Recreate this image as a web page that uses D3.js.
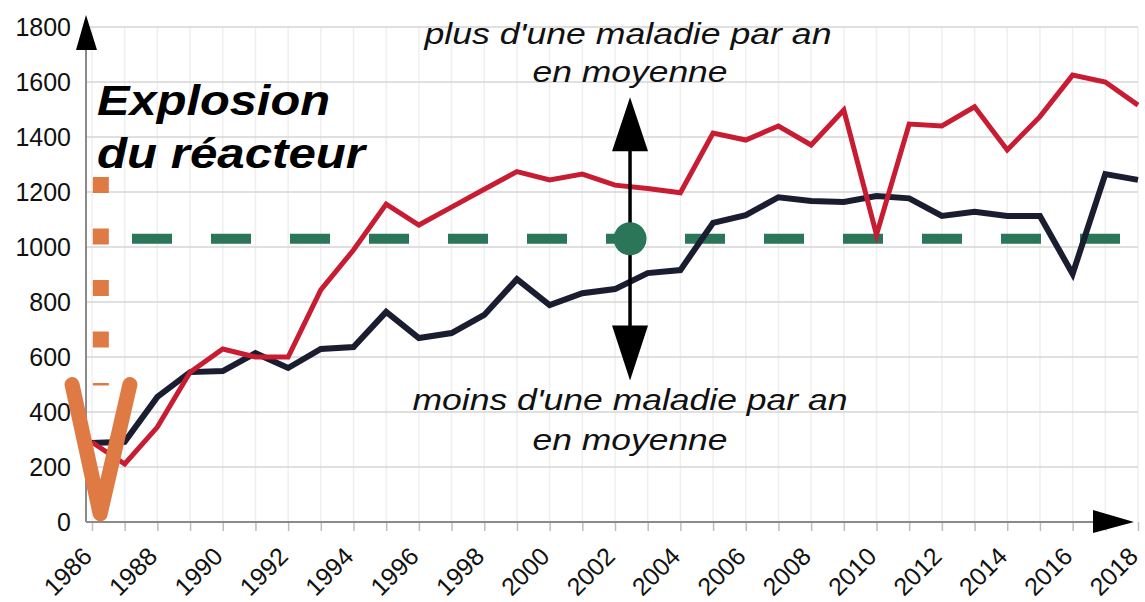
<!DOCTYPE html>
<html>
<head>
<meta charset="utf-8">
<script src="https://cdn.jsdelivr.net/npm/d3@7"></script>
<style>
  body { margin: 0; background: #fff; }
  svg { display: block; font-family: "Liberation Sans", Arial, sans-serif; }
</style>
</head>
<body>
<svg id="chart" width="1145" height="602"></svg>
<script>
const years = d3.range(1986, 2019);

// red series (upper line)
const redValues = [290, 211, 345, 545, 629, 600, 600, 844, 989, 1156, 1080, 1145, 1210, 1274, 1244,
  1265, 1225, 1213, 1197, 1414, 1389, 1440, 1371, 1498, 1045, 1447, 1440, 1510, 1353, 1474,
  1625, 1600, 1516];

// dark series (lower line)
const darkValues = [287, 292, 455, 545, 549, 614, 560, 629, 636, 764, 669, 687, 753, 883, 789,
  832, 847, 905, 916, 1088, 1116, 1181, 1167, 1164, 1185, 1177, 1113, 1128, 1113, 1113,
  902, 1265, 1244];

const yTicks = [0, 200, 400, 600, 800, 1000, 1200, 1400, 1600, 1800];
const xLabels = d3.range(1986, 2019, 2);

const averageLevel = 1030;
const averageYear = 2002.46;
const arrowTop = 1545;
const arrowBottom = 515;

// orange markers near the accident year
const orangeV = [[1985.39, 500], [1986.25, 30], [1987.16, 500]];
const orangeDots = [[1986.27, 500], [1986.27, 1255]];

const svg = d3.select('#chart');

const x = d3.scaleLinear().domain([1986, 2018]).range([92, 1138]);
const y = d3.scaleLinear().domain([0, 1800]).range([522, 27]);

const axisX = 86;

// vertical grid
svg.append('g')
  .selectAll('line')
  .data(years)
  .join('line')
  .attr('x1', d => x(d)).attr('x2', d => x(d))
  .attr('y1', y(1800)).attr('y2', y(0))
  .attr('stroke', '#efefef')
  .attr('stroke-width', 1.5);

// horizontal grid
svg.append('g')
  .selectAll('line')
  .data(yTicks.slice(1))
  .join('line')
  .attr('x1', axisX).attr('x2', x(2018))
  .attr('y1', d => y(d)).attr('y2', d => y(d))
  .attr('stroke', '#d6d6d6')
  .attr('stroke-width', 1.5);

// y axis labels
const yAxis = d3.axisLeft(y).tickValues(yTicks).tickFormat(d3.format('d')).tickSize(0).tickPadding(15);
const gy = svg.append('g').attr('transform', `translate(${axisX},0)`).call(yAxis);
gy.select('.domain').remove();
gy.selectAll('text')
  .attr('font-size', '25px')
  .attr('fill', '#111')
  .attr('font-family', '"Liberation Sans", Arial, sans-serif');

// x axis ticks and labels
const xAxis = d3.axisBottom(x).tickValues(years).tickSize(9)
  .tickFormat(d => (xLabels.includes(d) ? d : ''));
const gx = svg.append('g').attr('transform', `translate(0,${y(0)})`).call(xAxis);
gx.select('.domain').remove();
gx.selectAll('.tick line').attr('stroke', '#bdbdbd').attr('stroke-width', 1.5);
gx.selectAll('text')
  .attr('font-size', '25px')
  .attr('fill', '#111')
  .attr('font-family', '"Liberation Sans", Arial, sans-serif')
  .attr('text-anchor', 'end')
  .attr('dy', null)
  .attr('y', null)
  .attr('transform', 'translate(1,36) rotate(-45)');

// axis lines
svg.append('line')
  .attr('x1', axisX).attr('x2', axisX)
  .attr('y1', 40).attr('y2', y(0))
  .attr('stroke', '#8a8a8a').attr('stroke-width', 2);
svg.append('line')
  .attr('x1', axisX).attr('x2', 1100)
  .attr('y1', y(0)).attr('y2', y(0))
  .attr('stroke', '#8a8a8a').attr('stroke-width', 2);

// axis arrows
svg.append('path')
  .attr('d', `M${axisX},15 L${axisX + 11},50 L${axisX - 10},50 Z`)
  .attr('fill', '#000');
svg.append('path')
  .attr('d', `M1134,${y(0)} L1093,${y(0) - 12} L1093,${y(0) + 11} Z`)
  .attr('fill', '#000');

// orange dotted marker
svg.append('line')
  .attr('x1', x(orangeDots[0][0])).attr('x2', x(orangeDots[1][0]))
  .attr('y1', y(orangeDots[1][1])).attr('y2', y(orangeDots[0][1]) + 1)
  .attr('stroke', '#e07a45')
  .attr('stroke-width', 16)
  .attr('stroke-dasharray', '16 35.5');

// average level dashed line
svg.append('line')
  .attr('x1', 132).attr('x2', 1124)
  .attr('y1', y(averageLevel)).attr('y2', y(averageLevel))
  .attr('stroke', '#2b7558')
  .attr('stroke-width', 10)
  .attr('stroke-dasharray', '40 39');

const line = d3.line().x((d, i) => x(years[i])).y(d => y(d));

svg.append('path')
  .datum(darkValues)
  .attr('d', line)
  .attr('fill', 'none')
  .attr('stroke', '#1a1d30')
  .attr('stroke-width', 6)
  .attr('stroke-linejoin', 'miter');

svg.append('path')
  .datum(redValues)
  .attr('d', line)
  .attr('fill', 'none')
  .attr('stroke', '#c81c33')
  .attr('stroke-width', 5)
  .attr('stroke-linejoin', 'miter');

// orange V
svg.append('path')
  .datum(orangeV)
  .attr('d', d3.line().x(d => x(d[0])).y(d => y(d[1])))
  .attr('fill', 'none')
  .attr('stroke', '#e07a45')
  .attr('stroke-width', 15)
  .attr('stroke-linecap', 'round')
  .attr('stroke-linejoin', 'round');

// middle arrow
const ax = x(averageYear);
svg.append('line')
  .attr('x1', ax).attr('x2', ax)
  .attr('y1', y(arrowTop) + 40).attr('y2', y(arrowBottom) - 40)
  .attr('stroke', '#000').attr('stroke-width', 3.5);
svg.append('path')
  .attr('d', `M${ax},${y(arrowTop)} L${ax + 18},${y(arrowTop) + 54} L${ax - 18},${y(arrowTop) + 54} Z`)
  .attr('fill', '#000');
svg.append('path')
  .attr('d', `M${ax},${y(arrowBottom)} L${ax + 18},${y(arrowBottom) - 55} L${ax - 18},${y(arrowBottom) - 55} Z`)
  .attr('fill', '#000');
svg.append('circle')
  .attr('cx', ax).attr('cy', y(averageLevel))
  .attr('r', 16.5)
  .attr('fill', '#2b7558');

// annotations
const notes = [
  { text: "plus d'une maladie par an", cx: 628, y: 44, len: 407 },
  { text: 'en moyenne', cx: 630, y: 82, len: 195 },
  { text: "moins d'une maladie par an", cx: 630, y: 410, len: 435 },
  { text: 'en moyenne', cx: 630, y: 450, len: 195 }
];
svg.append('g')
  .selectAll('text')
  .data(notes)
  .join('text')
  .attr('x', d => d.cx - d.len / 2)
  .attr('y', d => d.y)
  .attr('font-size', '30px')
  .attr('font-style', 'italic')
  .attr('fill', '#111')
  .attr('textLength', d => d.len)
  .attr('lengthAdjust', 'spacingAndGlyphs')
  .text(d => d.text);

const title = [
  { text: 'Explosion', y: 115, len: 233 },
  { text: 'du réacteur', y: 168, len: 268 }
];
svg.append('g')
  .selectAll('text')
  .data(title)
  .join('text')
  .attr('x', 97)
  .attr('y', d => d.y)
  .attr('font-size', '42px')
  .attr('font-weight', 'bold')
  .attr('font-style', 'italic')
  .attr('fill', '#000')
  .attr('textLength', d => d.len)
  .attr('lengthAdjust', 'spacingAndGlyphs')
  .text(d => d.text);
</script>
</body>
</html>
